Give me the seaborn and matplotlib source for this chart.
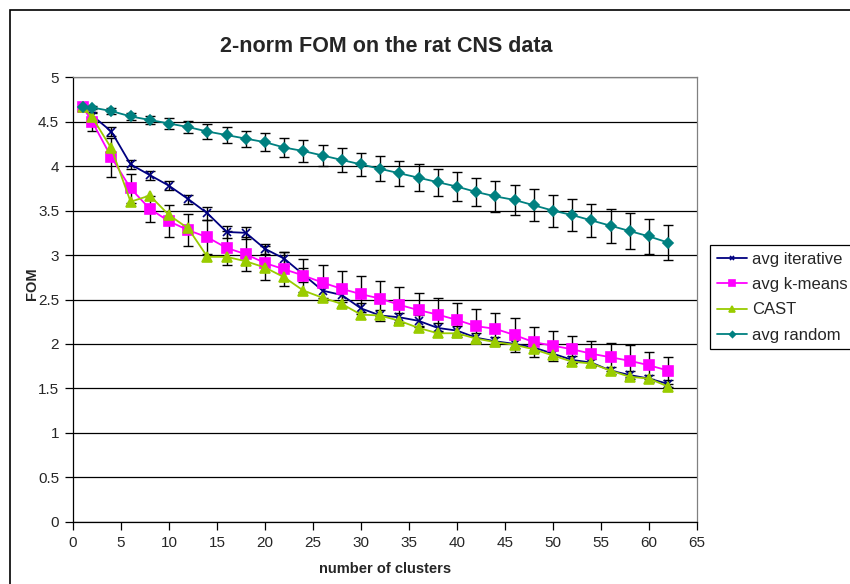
import numpy as np
import pandas as pd
import matplotlib
matplotlib.use("Agg")
import matplotlib.pyplot as plt
import seaborn as sns
from matplotlib.patches import Rectangle
from matplotlib.ticker import FuncFormatter, MultipleLocator

# data
clusters = [1, 2, 4, 6, 8, 10, 12, 14, 16, 18, 20, 22, 24, 26, 28, 30,
            32, 34, 36, 38, 40, 42, 44, 46, 48, 50, 52, 54, 56, 58, 60, 62]

fom_iterative = [4.67, 4.57, 4.39, 4.02, 3.90, 3.78, 3.63, 3.47, 3.26, 3.25, 3.07, 2.96,
                 2.78, 2.60, 2.55, 2.40, 2.32, 2.30, 2.26, 2.18, 2.15, 2.07, 2.03, 2.00,
                 1.96, 1.89, 1.82, 1.79, 1.70, 1.65, 1.61, 1.55]
err_iterative = [0.01, 0.04, 0.05, 0.05, 0.05, 0.05, 0.05, 0.07, 0.07, 0.07, 0.06, 0.08,
                 0.08, 0.08, 0.08, 0.06, 0.06, 0.05, 0.06, 0.05, 0.05, 0.05, 0.05, 0.05,
                 0.05, 0.04, 0.04, 0.04, 0.04, 0.04, 0.04, 0.04]

fom_kmeans = [4.67, 4.50, 4.10, 3.75, 3.52, 3.38, 3.28, 3.20, 3.08, 3.01, 2.91, 2.84,
              2.77, 2.69, 2.62, 2.56, 2.51, 2.44, 2.38, 2.33, 2.27, 2.20, 2.17, 2.10,
              2.02, 1.98, 1.94, 1.89, 1.85, 1.81, 1.76, 1.70]
err_kmeans = [0.01, 0.10, 0.22, 0.16, 0.15, 0.18, 0.18, 0.19, 0.19, 0.19, 0.19, 0.19,
              0.19, 0.20, 0.20, 0.20, 0.20, 0.20, 0.19, 0.19, 0.19, 0.19, 0.18, 0.19,
              0.17, 0.17, 0.15, 0.14, 0.16, 0.18, 0.15, 0.15]

fom_cast = [4.67, 4.55, 4.20, 3.60, 3.67, 3.45, 3.30, 2.98, 2.98, 2.93, 2.86, 2.75,
            2.60, 2.52, 2.45, 2.33, 2.32, 2.26, 2.18, 2.12, 2.12, 2.06, 2.02, 1.99,
            1.94, 1.87, 1.80, 1.78, 1.70, 1.63, 1.61, 1.52]

fom_random = [4.67, 4.66, 4.62, 4.56, 4.52, 4.48, 4.44, 4.39, 4.35, 4.31, 4.27, 4.21,
              4.17, 4.12, 4.07, 4.02, 3.97, 3.92, 3.87, 3.82, 3.77, 3.71, 3.66, 3.62,
              3.56, 3.50, 3.45, 3.39, 3.33, 3.27, 3.21, 3.14]
err_random = [0.02, 0.02, 0.03, 0.04, 0.05, 0.06, 0.07, 0.08, 0.09, 0.09, 0.10, 0.11,
              0.12, 0.12, 0.13, 0.13, 0.14, 0.14, 0.15, 0.15, 0.16, 0.16, 0.17, 0.17,
              0.18, 0.18, 0.18, 0.19, 0.19, 0.20, 0.20, 0.20]

sns.set_theme(style="white")
plt.rcParams["font.family"] = ["Liberation Sans", "DejaVu Sans"]

W, H = 850, 584
fig = plt.figure(figsize=(W / 100, H / 100), dpi=100)
ax = fig.add_axes([73 / W, 1 - 521.7 / H, (697 - 73) / W, (521.7 - 77.3) / H])

# error bars first so the lines sit on top
for vals, err in [(fom_random, err_random), (fom_kmeans, err_kmeans),
                  (fom_iterative, err_iterative)]:
    ax.errorbar(clusters, vals, yerr=err, fmt="none", ecolor="black",
                elinewidth=1, capsize=3.5, capthick=1, zorder=2)

series = [
    ("avg iterative", fom_iterative, "#000080", "x", 6),
    ("avg k-means", fom_kmeans, "#FF00FF", "s", 7),
    ("CAST", fom_cast, "#99CC00", "^", 7.5),
    ("avg random", fom_random, "#008080", "D", 5),
]
for name, vals, col, mk, ms in series:
    sns.lineplot(x=clusters, y=vals, ax=ax, color=col, marker=mk, markersize=ms,
                 markeredgecolor=col, markerfacecolor=col, markeredgewidth=1.2,
                 linewidth=1.3, label=name, legend=False, zorder=3)

ax.set_xlim(0, 65)
ax.set_ylim(0, 5)
ax.xaxis.set_major_locator(MultipleLocator(5))
ax.yaxis.set_major_locator(MultipleLocator(0.5))
ax.yaxis.set_major_formatter(FuncFormatter(lambda v, p: f"{v:g}"))
ax.yaxis.grid(True, color="black", linewidth=0.9)
ax.set_axisbelow(True)
ax.tick_params(direction="out", length=6, width=0.9, color="black",
               labelsize=11, left=True, bottom=True, pad=4)
for s in ["left", "bottom"]:
    ax.spines[s].set_color("black")
    ax.spines[s].set_linewidth(0.9)
for s in ["right", "top"]:
    ax.spines[s].set_color("#808080")
    ax.spines[s].set_linewidth(0.9)

ax.set_xlabel("number of clusters", fontsize=10.5, fontweight="bold")
ax.xaxis.set_label_coords(0.5, -(562 - 521.7) / 444.4)
ax.set_ylabel("FOM", fontsize=10.5, fontweight="bold")
ax.yaxis.set_label_coords(-(73 - 39) / 624, (521.7 - 284) / 444.4)

fig.text(386 / W, 1 - 46 / H, "2-norm FOM on the rat CNS data",
         ha="center", va="center", fontsize=15.5, fontweight="bold")

handles, labels = ax.get_legend_handles_labels()
leg = fig.legend(handles, labels, loc="upper left",
                 bbox_to_anchor=(710 / W, 1 - 245 / H), borderaxespad=0,
                 frameon=True, fancybox=False, edgecolor="black", framealpha=1,
                 fontsize=12, handlelength=1.8, handletextpad=0.3,
                 labelspacing=0.62, borderpad=0.4, markerscale=0.6)
leg.get_frame().set_linewidth(0.9)

# outer chart border
fig.patches.append(Rectangle((10 / W, -0.05), 1.1, 1 - 10 / H + 0.05,
                             transform=fig.transFigure, fill=False,
                             edgecolor="black", linewidth=1.2))

fig.savefig("out.png", dpi=100)
